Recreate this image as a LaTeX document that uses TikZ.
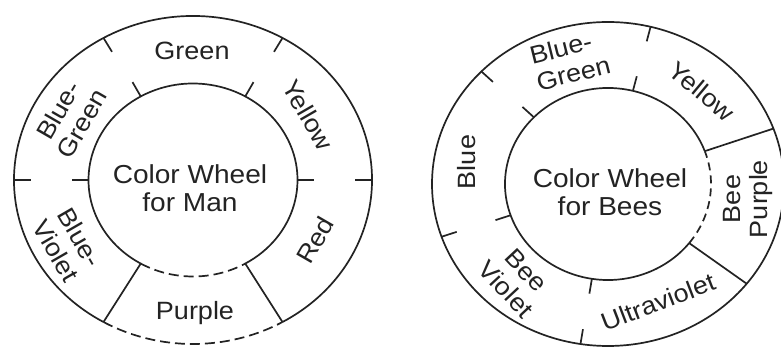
\documentclass[tikz,border=0pt]{standalone}
\usepackage{fontspec}
\setmainfont{Liberation Sans}[FakeStretch=1.08]
\usetikzlibrary{calc}
\definecolor{ink}{RGB}{35,35,35}
\begin{document}
\begin{tikzpicture}[x=1pt,y=1pt,
  ring/.style={draw=ink,line width=1.7pt},
  dashring/.style={draw=ink,line width=1.7pt,dash pattern=on 10pt off 5pt},
  lab/.style={text=ink,font=\fontsize{25}{27.5}\selectfont,align=center,inner sep=0pt},
  ctr/.style={text=ink,font=\fontsize{26}{28}\selectfont,align=center,inner sep=0pt}]
\useasboundingbox[fill=white] (0,0) rectangle (781,347);

% ---------------- Left wheel (man) ----------------
\coordinate (cL) at (193,167);
\def\aL{104.5}\def\bL{96.5}\def\AL{179}\def\BL{164}
% inner
\draw[ring] (cL) ++(300:\aL pt and \bL pt) arc[start angle=300,end angle=600,x radius=\aL,y radius=\bL];
\draw[dashring] (cL) ++(240:\aL pt and \bL pt) arc[start angle=240,end angle=300,x radius=\aL,y radius=\bL];
% outer
\draw[ring] (cL) ++(300:\AL pt and \BL pt) arc[start angle=300,end angle=600,x radius=\AL,y radius=\BL];
\draw[dashring] (cL) ++(240:\AL pt and \BL pt) arc[start angle=240,end angle=300,x radius=\AL,y radius=\BL];
% radial dividers
\foreach \t in {240,300}{
  \draw[ring] ($(cL)+(\t:\aL pt and \bL pt)$) -- ($(cL)+(\t:\AL pt and \BL pt)$);
}
% ticks
\foreach \t in {0,60,120,180}{
  \draw[ring] ($(cL)+(\t:\aL pt and \bL pt)$) -- ($(cL)+(\t:121 pt and 113 pt)$);
  \draw[ring] ($(cL)+(\t:\AL pt and \BL pt)$) -- ($(cL)+(\t:162 pt and 148 pt)$);
}
\node[ctr] (manc) at (190,159) {Color Wheel\\for Man};
\node[lab] (mg) at (192,296) {Green};
\node[lab,rotate=60] (mbg) at (70,230) {Blue-\\Green};
\node[lab,rotate=-60] (my) at (308,232) {Yellow};
\node[lab,rotate=60] (mr) at (315,107) {Red};
\node[lab,rotate=-60] (mbv) at (68,103) {Blue-\\Violet};
\node[lab] (mp) at (195,34) {Purple};

% ---------------- Right wheel (bees) ----------------
\coordinate (cR) at (608,163);
\def\aR{103}\def\bR{96}\def\AR{176}\def\BR{162}
\draw[ring] (cR) ++(20:\aR pt and \bR pt) arc[start angle=20,end angle=322,x radius=\aR,y radius=\bR];
\draw[dashring,dash pattern=on 8pt off 5pt] (cR) ++(-38:\aR pt and \bR pt) arc[start angle=-38,end angle=20,x radius=\aR,y radius=\bR];
\draw[ring] (cR) ellipse[x radius=\AR,y radius=\BR];
\foreach \t in {20,-38}{
  \draw[ring] ($(cR)+(\t:\aR pt and \bR pt)$) -- ($(cR)+(\t:\AR pt and \BR pt)$);
}
\foreach \t in {76,136,199,261}{
  \draw[ring] ($(cR)+(\t:\aR pt and \bR pt)$) -- ($(cR)+(\t:119 pt and 111 pt)$);
  \draw[ring] ($(cR)+(\t:\AR pt and \BR pt)$) -- ($(cR)+(\t:160 pt and 147 pt)$);
}
\node[ctr] (beec) at (610,155) {Color Wheel\\for Bees};
\node[lab,rotate=14,align=left] (bbg) at (570,287) {Blue-\\Green};
\node[lab,rotate=-40] (by) at (702,256) {Yellow};
\node[lab,rotate=90] (bbp) at (748,148) {Bee\\Purple};
\node[lab,rotate=21] (buv) at (658,45) {Ultraviolet};
\node[lab,rotate=-47] (bbv) at (516,67) {Bee\\Violet};
\node[lab,rotate=90] (bb) at (467,185) {Blue};
\end{tikzpicture}
\end{document}
